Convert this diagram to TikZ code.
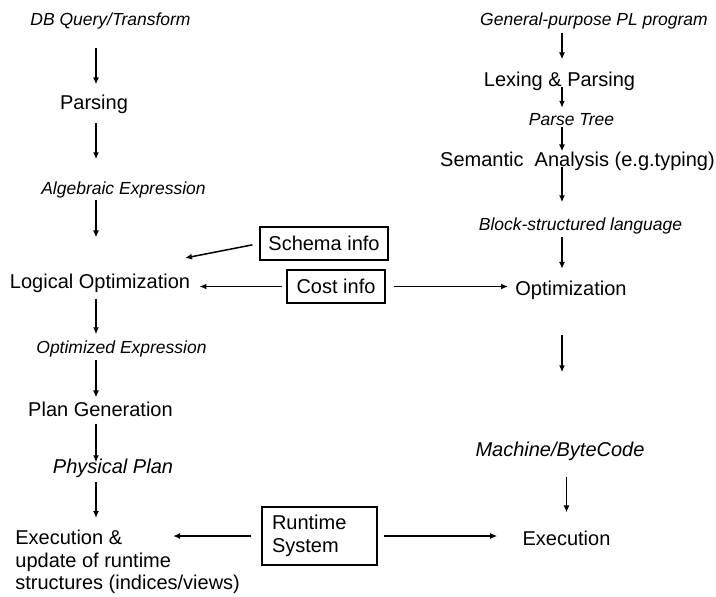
\documentclass[tikz,border=0pt]{standalone}
\usepackage{fontspec}
\setmainfont{Liberation Sans}
\usetikzlibrary{arrows.meta, positioning, calc}
\tikzset{
  stepname/.style={
    font=\fontsize{10}{12}\selectfont, inner sep=0pt, text height=7.2pt, text depth=0pt
  },
  dataname/.style={
    font=\fontsize{8.75}{10.5}\selectfont\itshape, inner sep=0pt, text height=6.3pt, text depth=0pt
  },
  infobox/.style={
    draw, line width=0.75pt, font=\fontsize{10}{12}\selectfont, inner sep=0pt, minimum height=16.5pt
  },
  flowarrow/.style={
    line width=0.75pt, -{Latex[length=3.5pt,width=3pt]}
  }
}
\begin{document}
\begin{tikzpicture}[x=0.5pt, y=-0.5pt]
  \useasboundingbox (0,0) rectangle (716,596);
  \coordinate (lcol) at (96,0);
  \coordinate (rcol) at (562,0);
  % query side
  \node[dataname] (dbq) at (110.5,19.5) {DB Query/Transform};
  \node[stepname] (parse) at (94,102) {Parsing};
  \node[dataname] (alg) at (123.5,188) {Algebraic Expression};
  \node[stepname] (logopt) at (100,281) {Logical Optimization};
  \node[dataname] (optexpr) at (121.5,347) {Optimized Expression};
  \node[stepname] (plangen) at (100.5,409) {Plan Generation};
  \node[dataname, font=\fontsize{10}{12}\selectfont\itshape] (phys) at (113,467) {Physical Plan};
  \node[font=\fontsize{10}{11.25}\selectfont, inner sep=0pt, align=left, anchor=north west] (execl) at (15,530)
    {Execution \&\\update of runtime\\structures (indices/views)};
  % program side
  \node[dataname] (general) at (594,19.5) {General-purpose PL program};
  \node[stepname] (lexing) at (559.5,79) {Lexing \& Parsing};
  \node[dataname] (parsetree) at (571.5,119.5) {Parse Tree};
  \node[stepname] (semantic) at (577.5,159) {Semantic\ \ Analysis (e.g.typing)};
  \node[dataname] (block) at (580.5,224) {Block-structured language};
  \node[stepname] (optim) at (571,288.5) {Optimization};
  \node[dataname, font=\fontsize{10}{12}\selectfont\itshape] (machine) at (560,450) {Machine/ByteCode};
  \node[stepname] (execr) at (566.5,538) {Execution};
  % shared info
  \node[infobox, minimum width=64pt] (schema) at (324,243.5) {Schema info};
  \node[infobox, minimum width=49pt] (cost) at (336,286.5) {Cost info};
  \node[infobox, align=left, text width=47.5pt, inner xsep=5pt, minimum height=29pt,
    font=\fontsize{10}{11.5}\selectfont] (runtime) at (319.5,536) {Runtime\\System};
  \coordinate (schematip) at (185,258);
  \coordinate (exectip) at (173,536);

  \draw[flowarrow, shorten <=10.75pt, shorten >=5pt] (dbq.south -| lcol) -- (parse.north -| lcol);
  \draw[flowarrow, shorten <=6.85pt, shorten >=11pt] (parse.south -| lcol) -- (alg.north -| lcol);
  \draw[flowarrow, shorten <=2.75pt, shorten >=18pt] (alg.south -| lcol) -- (logopt.north -| lcol);
  \draw[flowarrow, shorten <=5pt, shorten >=3pt] (logopt.south -| lcol) -- (optexpr.north -| lcol);
  \draw[flowarrow, shorten <=3.25pt, shorten >=2pt] (optexpr.south -| lcol) -- (plangen.north -| lcol);
  \draw[flowarrow, shorten <=3.5pt, shorten >=-1pt] (plangen.south -| lcol) -- (phys.north -| lcol);
  \draw[flowarrow, shorten <=4pt, shorten >=6pt] (phys.south -| lcol) -- (execl.north -| lcol);

  \draw[flowarrow, shorten <=3.25pt, shorten >=6pt] (general.south -| rcol) -- (lexing.north -| rcol);
  \draw[flowarrow, shorten >=2.5pt] (lexing.south -| rcol) -- (parsetree.north -| rcol);
  \draw[flowarrow, shorten <=0.5pt] (parsetree.south -| rcol) -- (semantic.north -| rcol);
  \draw[flowarrow, shorten >=7.5pt] (semantic.south -| rcol) -- (block.north -| rcol);
  \draw[flowarrow, shorten <=3.25pt, shorten >=6pt] (block.south -| rcol) -- (optim.north -| rcol);
  \draw[flowarrow, shorten <=19.5pt, shorten >=35.5pt] (optim.south -| rcol) -- (machine.north -| rcol);
  \draw[flowarrow, shorten <=10pt, shorten >=9pt] (machine.south -| execr) -- (execr.north);

  \draw[flowarrow, shorten <=3.5pt] (schema.west) -- (schematip);
  \draw[flowarrow, shorten <=2pt, shorten >=4.5pt] (cost.west) -- (cost.west -| logopt.east);
  \draw[flowarrow, shorten <=4pt, shorten >=3.5pt] (cost.east) -- (cost.east -| optim.west);
  \draw[flowarrow, shorten <=5pt] (runtime.west) -- (runtime.west -| exectip);
  \draw[flowarrow, shorten <=3pt, shorten >=12.5pt] (runtime.east) -- (runtime.east -| execr.west);
\end{tikzpicture}
\end{document}
